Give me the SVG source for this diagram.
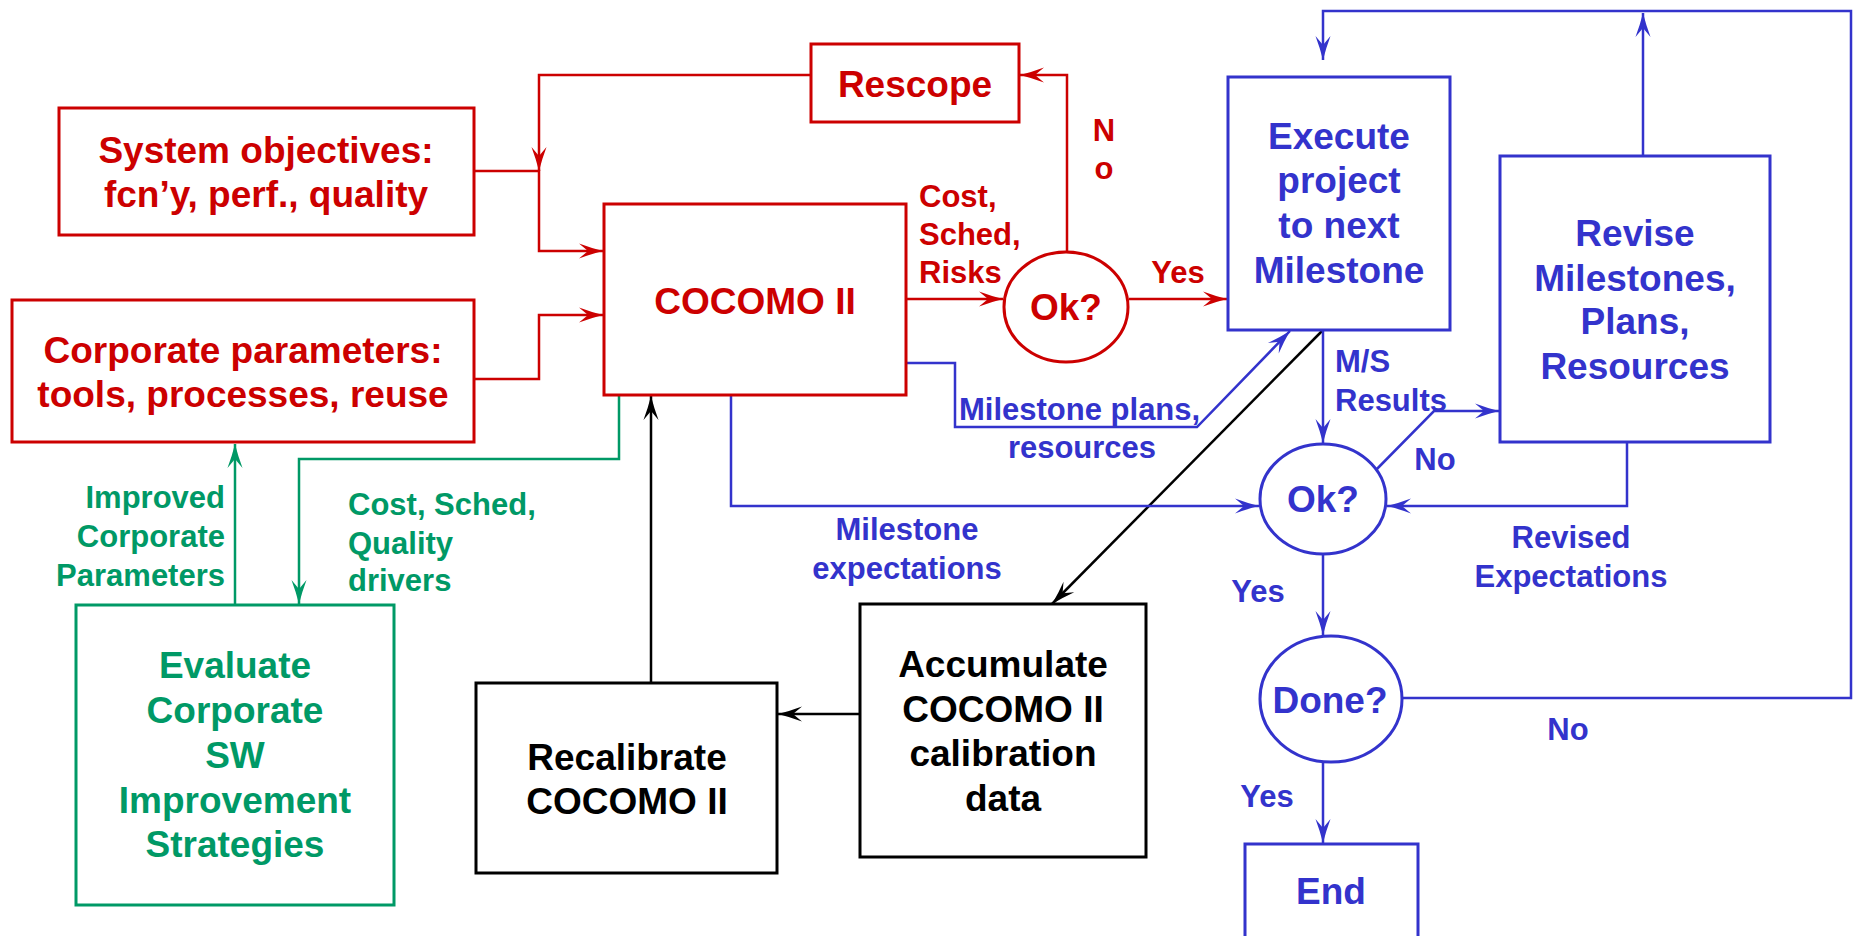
<svg xmlns="http://www.w3.org/2000/svg" width="1854" height="936" viewBox="0 0 1854 936">
<defs>
<style>
text{font-family:"Liberation Sans",Arial,sans-serif;font-weight:bold;}
.n{font-size:37px;text-anchor:middle;}
.l{font-size:31px;}
.c{text-anchor:middle;}
.e{text-anchor:end;}
.red{fill:#CC0000;}
.blue{fill:#3333CC;}
.green{fill:#009966;}
.blk{fill:#000;}
.bx{fill:#fff;stroke-width:3;}
.ln{fill:none;stroke-width:2.5;}
.sr{stroke:#CC0000;}
.sb{stroke:#3333CC;}
.sg{stroke:#009966;}
.sk{stroke:#000;}
</style>
<marker id="ar" markerUnits="userSpaceOnUse" markerWidth="30" markerHeight="20" viewBox="-26 -10 28 20" refX="0" refY="0" orient="auto"><path d="M0,0 Q-12,-3 -24,-7.5 L-15,0 L-24,7.5 Q-12,3 0,0 Z" fill="#CC0000"/></marker>
<marker id="ab" markerUnits="userSpaceOnUse" markerWidth="30" markerHeight="20" viewBox="-26 -10 28 20" refX="0" refY="0" orient="auto"><path d="M0,0 Q-12,-3 -24,-7.5 L-15,0 L-24,7.5 Q-12,3 0,0 Z" fill="#3333CC"/></marker>
<marker id="ag" markerUnits="userSpaceOnUse" markerWidth="30" markerHeight="20" viewBox="-26 -10 28 20" refX="0" refY="0" orient="auto"><path d="M0,0 Q-12,-3 -24,-7.5 L-15,0 L-24,7.5 Q-12,3 0,0 Z" fill="#009966"/></marker>
<marker id="ak" markerUnits="userSpaceOnUse" markerWidth="30" markerHeight="20" viewBox="-26 -10 28 20" refX="0" refY="0" orient="auto"><path d="M0,0 Q-12,-3 -24,-7.5 L-15,0 L-24,7.5 Q-12,3 0,0 Z" fill="#000"/></marker>
</defs>
<rect width="1854" height="936" fill="#fff"/>

<g id="connectors">
<!-- red -->
<path class="ln sr" d="M811,75 H539 V171" marker-end="url(#ar)"/>
<path class="ln sr" d="M474,171 H539 V251 H603" marker-end="url(#ar)"/>
<path class="ln sr" d="M474,379 H539 V315 H603" marker-end="url(#ar)"/>
<path class="ln sr" d="M906,299 H1003" marker-end="url(#ar)"/>
<path class="ln sr" d="M1129,299 H1227" marker-end="url(#ar)"/>
<path class="ln sr" d="M1067,252 V75 H1020" marker-end="url(#ar)"/>
<!-- green -->
<path class="ln sg" d="M619,395 V459 H299 V604" marker-end="url(#ag)"/>
<path class="ln sg" d="M235,604 V444" marker-end="url(#ag)"/>
<!-- black -->
<path class="ln sk" d="M651,683 V396" marker-end="url(#ak)"/>
<path class="ln sk" d="M860,714 H778" marker-end="url(#ak)"/>
<path class="ln sk" d="M1323,330 L1052,604" marker-end="url(#ak)"/>
<!-- blue -->
<path class="ln sb" d="M906,363 H955 V427 H1197 L1290,331" marker-end="url(#ab)"/>
<path class="ln sb" d="M731,395 V506 H1259" marker-end="url(#ab)"/>
<path class="ln sb" d="M1627,442 V506 H1387" marker-end="url(#ab)"/>
<path class="ln sb" d="M1323,330 V443" marker-end="url(#ab)"/>
<path class="ln sb" d="M1371,475 L1434,411 H1499" marker-end="url(#ab)"/>
<path class="ln sb" d="M1323,554 V635" marker-end="url(#ab)"/>
<path class="ln sb" d="M1323,762 V843" marker-end="url(#ab)"/>
<path class="ln sb" d="M1403,698 H1851 V11 H1323 V60" marker-end="url(#ab)"/>
<path class="ln sb" d="M1643,156 V13" marker-end="url(#ab)"/>
</g>

<g id="labels">
<text class="l red" x="919" y="207">Cost,</text>
<text class="l red" x="919" y="245">Sched,</text>
<text class="l red" x="919" y="283">Risks</text>
<text class="l red c" x="1104" y="141">N</text>
<text class="l red c" x="1104" y="179">o</text>
<text class="l red c" x="1178" y="283">Yes</text>
<text class="l blue" x="959" y="420">Milestone plans,</text>
<text class="l blue c" x="1082" y="458">resources</text>
<text class="l blue c" x="907" y="540">Milestone</text>
<text class="l blue c" x="907" y="579">expectations</text>
<text class="l blue" x="1335" y="372">M/S</text>
<text class="l blue" x="1335" y="411">Results</text>
<text class="l blue c" x="1435" y="470">No</text>
<text class="l blue c" x="1571" y="548">Revised</text>
<text class="l blue c" x="1571" y="587">Expectations</text>
<text class="l blue c" x="1258" y="602">Yes</text>
<text class="l blue c" x="1568" y="740">No</text>
<text class="l blue c" x="1267" y="807">Yes</text>
<text class="l green e" x="225" y="508">Improved</text>
<text class="l green e" x="225" y="547">Corporate</text>
<text class="l green e" x="225" y="586">Parameters</text>
<text class="l green" x="348" y="515">Cost, Sched,</text>
<text class="l green" x="348" y="554">Quality</text>
<text class="l green" x="348" y="591">drivers</text>
</g>

<g id="rescope">
<rect class="bx sr" x="811" y="44" width="208" height="78"/>
<text class="n red" x="915" y="97">Rescope</text>
</g>
<g id="system-objectives">
<rect class="bx sr" x="59" y="108" width="415" height="127"/>
<text class="n red" x="266" y="163">System objectives:</text>
<text class="n red" x="266" y="207">fcn’y, perf., quality</text>
</g>
<g id="corporate-parameters">
<rect class="bx sr" x="12" y="300" width="462" height="142"/>
<text class="n red" x="243" y="363">Corporate parameters:</text>
<text class="n red" x="243" y="407">tools, processes, reuse</text>
</g>
<g id="cocomo">
<rect class="bx sr" x="604" y="204" width="302" height="191"/>
<text class="n red" x="755" y="314">COCOMO II</text>
</g>
<g id="ok-red">
<ellipse class="bx sr" cx="1066" cy="307" rx="62" ry="55"/>
<text class="n red" x="1066" y="320">Ok?</text>
</g>
<g id="execute">
<rect class="bx sb" x="1228" y="77" width="222" height="253"/>
<text class="n blue" x="1339" y="149">Execute</text>
<text class="n blue" x="1339" y="193">project</text>
<text class="n blue" x="1339" y="238">to next</text>
<text class="n blue" x="1339" y="283">Milestone</text>
</g>
<g id="revise">
<rect class="bx sb" x="1500" y="156" width="270" height="286"/>
<text class="n blue" x="1635" y="246">Revise</text>
<text class="n blue" x="1635" y="291">Milestones,</text>
<text class="n blue" x="1635" y="334">Plans,</text>
<text class="n blue" x="1635" y="379">Resources</text>
</g>
<g id="ok-blue">
<ellipse class="bx sb" cx="1323" cy="499" rx="63" ry="55"/>
<text class="n blue" x="1323" y="512">Ok?</text>
</g>
<g id="done">
<ellipse class="bx sb" cx="1331" cy="699" rx="71" ry="63"/>
<text class="n blue" x="1330" y="713">Done?</text>
</g>
<g id="end">
<rect class="bx sb" x="1245" y="844" width="173" height="120"/>
<text class="n blue" x="1331" y="904">End</text>
</g>
<g id="evaluate">
<rect class="bx sg" x="76" y="605" width="318" height="300"/>
<text class="n green" x="235" y="678">Evaluate</text>
<text class="n green" x="235" y="723">Corporate</text>
<text class="n green" x="235" y="768">SW</text>
<text class="n green" x="235" y="813">Improvement</text>
<text class="n green" x="235" y="857">Strategies</text>
</g>
<g id="recalibrate">
<rect class="bx sk" x="476" y="683" width="301" height="190"/>
<text class="n blk" x="627" y="770">Recalibrate</text>
<text class="n blk" x="627" y="814">COCOMO II</text>
</g>
<g id="accumulate">
<rect class="bx sk" x="860" y="604" width="286" height="253"/>
<text class="n blk" x="1003" y="677">Accumulate</text>
<text class="n blk" x="1003" y="722">COCOMO II</text>
<text class="n blk" x="1003" y="766">calibration</text>
<text class="n blk" x="1003" y="811">data</text>
</g>
</svg>
